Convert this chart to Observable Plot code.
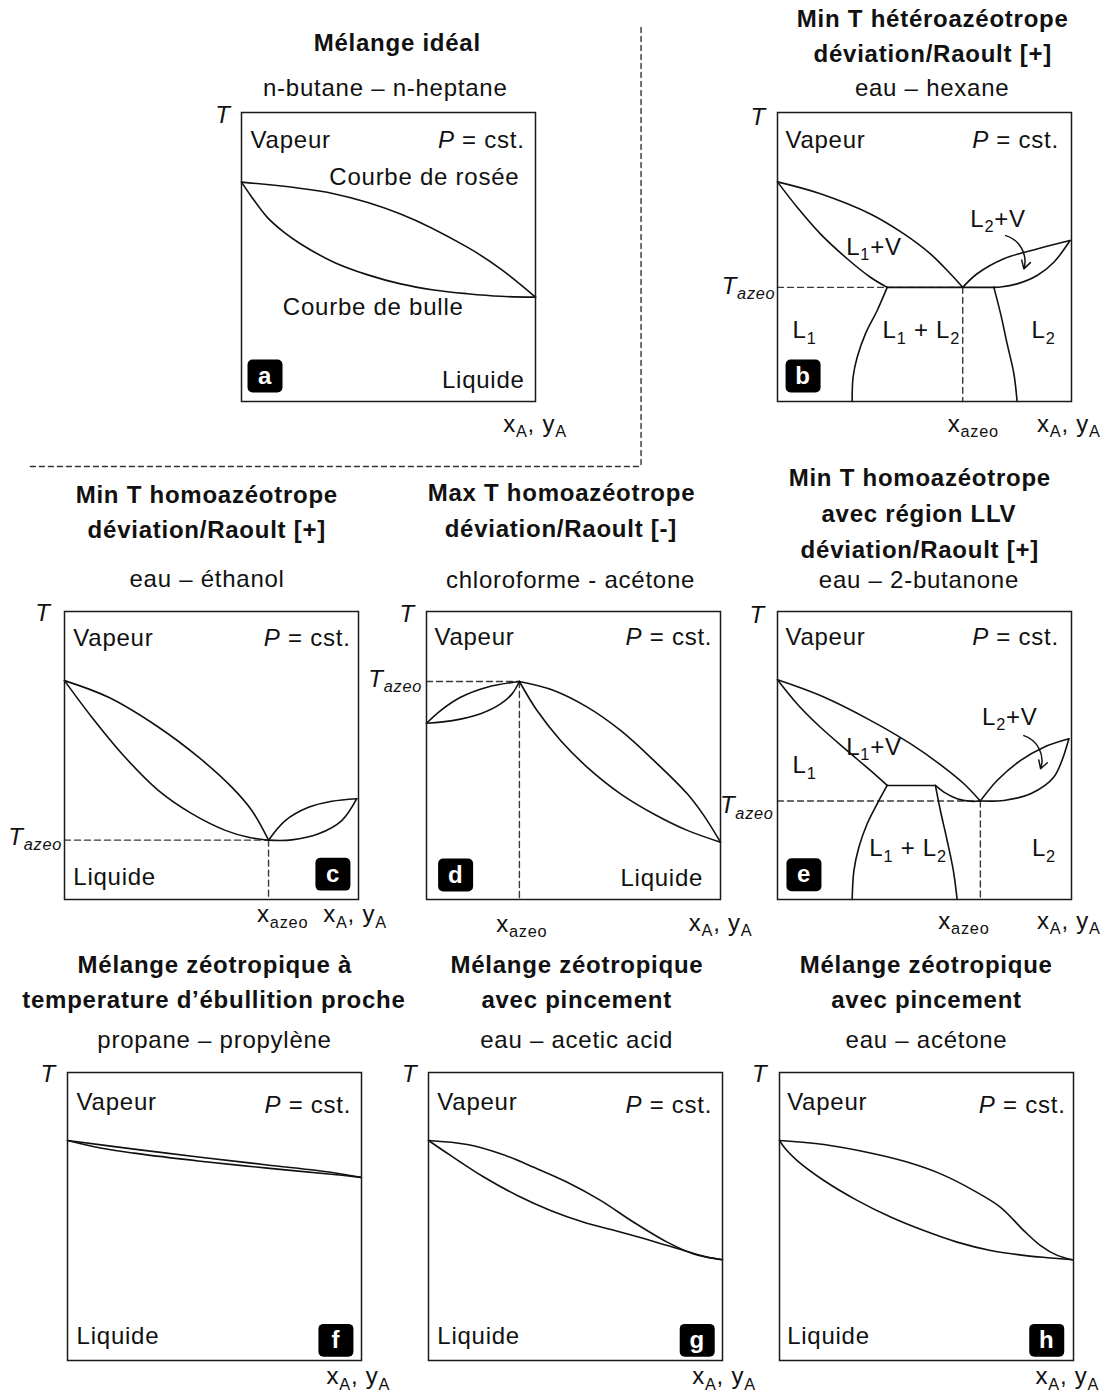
<!DOCTYPE html>
<html>
<head>
<meta charset="utf-8">
<script src="https://cdn.jsdelivr.net/npm/d3@7"></script>
<script src="https://cdn.jsdelivr.net/npm/@observablehq/plot@0.6"></script>
<style>
  html, body { margin: 0; padding: 0; background: #fff; }
  #sheet { position: relative; width: 1104px; height: 1395px; overflow: hidden; background: #fff; }
  #sheet svg { position: absolute; overflow: visible; }
  #sheet svg text { letter-spacing: 0.75px; }
</style>
</head>
<body>
<div id="sheet"></div>
<script>
// ---- Curves: [x_A, reduced temperature T] (0 = bottom of diagram, 1 = top) ----

// a — n-butane / n-heptane (ideal mixture)
const idealDew    = [[0,0.759],[0.314,0.719],[0.541,0.649],[0.768,0.534],[0.881,0.459],[1,0.361]];
const idealBubble = [[0,0.759],[0.031,0.713],[0.087,0.638],[0.144,0.586],[0.2,0.546],[0.314,0.482],[0.427,0.439],[0.541,0.407],[0.654,0.386],[0.768,0.373],[0.881,0.364],[1,0.361]];

// b — eau / hexane (heteroazeotrope)
const hexAzeo        = [0.63, 0.395];
const hexDewL        = [[0,0.76],[0.146,0.719],[0.316,0.649],[0.43,0.58],[0.52,0.511],[0.588,0.442],[0.63,0.395]];
const hexBubbleL     = [[0,0.76],[0.067,0.672],[0.146,0.58],[0.237,0.494],[0.316,0.43],[0.373,0.395]];
const hexThreePhase  = [[0.373,0.395],[0.736,0.395]];
const hexDewR        = [[0.63,0.395],[0.679,0.442],[0.77,0.494],[0.883,0.528],[0.995,0.557]];
const hexBubbleR     = [[0.736,0.395],[0.759,0.396],[0.815,0.407],[0.883,0.436],[0.94,0.482],[0.995,0.557]];
const hexSolubilityL = [[0.373,0.395],[0.339,0.315],[0.299,0.234],[0.271,0.153],[0.257,0.084],[0.254,0]];
const hexSolubilityR = [[0.736,0.395],[0.759,0.303],[0.781,0.2],[0.804,0.096],[0.815,0]];
const hexArrow       = [[0.776,0.574],[0.838,0.459]];

// c — eau / éthanol (minimum-T homoazeotrope)
const ethAzeo     = [0.694, 0.206];
const ethDewL     = [[0,0.76],[0.15,0.702],[0.32,0.598],[0.456,0.494],[0.569,0.39],[0.637,0.309],[0.694,0.206]];
const ethBubbleL  = [[0,0.76],[0.093,0.633],[0.206,0.494],[0.32,0.378],[0.433,0.298],[0.547,0.24],[0.626,0.216],[0.694,0.206]];
const ethDewR     = [[0.694,0.206],[0.751,0.274],[0.83,0.32],[0.909,0.341],[0.994,0.35]];
const ethBubbleR  = [[0.694,0.206],[0.773,0.207],[0.864,0.228],[0.943,0.274],[0.994,0.35]];

// d — chloroforme / acétone (maximum-T homoazeotrope)
const chlAzeo     = [0.316, 0.757];
const chlDewL     = [[0,0.612],[0.048,0.656],[0.116,0.702],[0.206,0.737],[0.316,0.757]];
const chlBubbleL  = [[0,0.612],[0.093,0.622],[0.184,0.645],[0.252,0.679],[0.291,0.714],[0.316,0.757]];
const chlDewR     = [[0.316,0.757],[0.433,0.726],[0.547,0.668],[0.66,0.587],[0.773,0.483],[0.887,0.367],[0.943,0.292],[1,0.199]];
const chlBubbleR  = [[0.316,0.757],[0.376,0.656],[0.456,0.552],[0.547,0.459],[0.66,0.367],[0.773,0.297],[0.887,0.24],[1,0.199]];

// e — eau / 2-butanone (homoazeotrope with an LLV region)
const butAzeo        = [0.69, 0.342];
const butDewL        = [[0,0.763],[0.146,0.708],[0.316,0.622],[0.452,0.541],[0.566,0.459],[0.634,0.402],[0.69,0.342]];
const butBubbleL     = [[0,0.763],[0.067,0.679],[0.146,0.598],[0.237,0.517],[0.316,0.448],[0.373,0.396]];
const butThreePhase  = [[0.373,0.396],[0.537,0.396]];
const butBubbleM     = [[0.537,0.396],[0.566,0.373],[0.611,0.35],[0.656,0.341],[0.69,0.342]];
const butBubbleR     = [[0.69,0.342],[0.77,0.344],[0.861,0.367],[0.94,0.425],[0.991,0.558]];
const butDewR        = [[0.69,0.342],[0.747,0.413],[0.827,0.483],[0.906,0.529],[0.991,0.558]];
const butSolubilityL = [[0.373,0.396],[0.339,0.332],[0.305,0.263],[0.277,0.182],[0.26,0.101],[0.254,0]];
const butSolubilityR = [[0.537,0.396],[0.554,0.309],[0.577,0.205],[0.598,0.101],[0.611,0]];
const butArrow       = [[0.838,0.569],[0.895,0.454]];

// f — propane / propylène (close boiling)
const propDew    = [[0,0.764],[0.226,0.734],[0.452,0.706],[0.679,0.679],[0.906,0.652],[0.997,0.636]];
const propBubble = [[0,0.764],[0.112,0.738],[0.226,0.72],[0.452,0.692],[0.679,0.668],[0.906,0.646],[0.997,0.636]];

// g — eau / acetic acid (pinch)
const aceDew    = [[0,0.764],[0.132,0.75],[0.245,0.718],[0.358,0.671],[0.472,0.619],[0.585,0.556],[0.698,0.48],[0.812,0.411],[0.902,0.37],[1,0.35]];
const aceBubble = [[0,0.764],[0.075,0.712],[0.188,0.637],[0.302,0.573],[0.415,0.521],[0.528,0.48],[0.642,0.449],[0.755,0.417],[0.868,0.382],[0.948,0.359],[1,0.35]];

// h — eau / acétone (pinch)
const acnDew    = [[0,0.764],[0.151,0.75],[0.321,0.718],[0.434,0.689],[0.548,0.648],[0.661,0.59],[0.752,0.532],[0.831,0.451],[0.888,0.399],[0.945,0.365],[0.996,0.35]];
const acnBubble = [[0,0.764],[0.02,0.735],[0.06,0.694],[0.151,0.625],[0.264,0.556],[0.378,0.498],[0.491,0.451],[0.604,0.411],[0.718,0.382],[0.831,0.365],[0.911,0.357],[0.996,0.35]];

// Dotted separators around the ideal-mixture diagram (in that diagram's units)
const dividers = [
  {id: "v", pts: [[1.359, 1.294], [1.359, -0.225]]},
  {id: "h", pts: [[-0.718, -0.225], [1.359, -0.225]]}
];

// ---- Layout ----
const L = (text, x, y, anchor = "middle", style = "plain") => ({text, x, y, anchor, style});
const frameLabels = (v, p, extra) => [
  L("Vapeur", v[0], v[1], "start"),
  L("*P* = cst.", p[0], p[1], "end"),
  ...extra
];

const panels = [
  { letter: "a", left: 241, top: 112, h: 289, badge: [0.08, 0.088],
    curves: {dew: idealDew, bubble: idealBubble}, dividers: true,
    labels: [
      L("Mélange idéal", 0.53, 1.24, "middle", "title"),
      L("n-butane – n-heptane", 0.489, 1.082),
      L("T", -0.063, 0.99, "middle", "italic"),
      L("x_{A}, y_{A}", 0.89, -0.078, "start"),
      ...frameLabels([0.031, 0.903], [0.963, 0.903], [
        L("Courbe de rosée", 0.622, 0.776),
        L("Courbe de bulle", 0.448, 0.326),
        L("Liquide", 0.963, 0.075, "end")
      ])
    ] },
  { letter: "b", left: 777, top: 112, h: 289, badge: [0.087, 0.088], azeo: hexAzeo, arrow: hexArrow,
    curves: {dL: hexDewL, bL: hexBubbleL, tp: hexThreePhase, dR: hexDewR, bR: hexBubbleR, sL: hexSolubilityL, sR: hexSolubilityR},
    labels: [
      L("Min T hétéroazéotrope", 0.528, 1.321, "middle", "title"),
      L("déviation/Raoult [+]", 0.528, 1.203, "middle", "title"),
      L("eau – hexane", 0.526, 1.082),
      L("T", -0.066, 0.984, "middle", "italic"),
      L("T_{azeo}", -0.007, 0.399, "end", "italic"),
      L("x_{azeo}", 0.666, -0.078),
      L("x_{A}, y_{A}", 0.883, -0.078, "start"),
      ...frameLabels([0.027, 0.903], [0.957, 0.903], [
        L("L_{1}+V", 0.328, 0.534),
        L("L_{2}+V", 0.75, 0.632),
        L("L_{1}", 0.092, 0.245),
        L("L_{1} + L_{2}", 0.489, 0.245),
        L("L_{2}", 0.905, 0.245)
      ])
    ] },
  { letter: "c", left: 64, top: 611, h: 288, badge: [0.913, 0.088], azeo: ethAzeo,
    curves: {dL: ethDewL, bL: ethBubbleL, dR: ethDewR, bR: ethBubbleR},
    labels: [
      L("Min T homoazéotrope", 0.484, 1.403, "middle", "title"),
      L("déviation/Raoult [+]", 0.484, 1.281, "middle", "title"),
      L("eau – éthanol", 0.485, 1.113),
      L("T", -0.073, 0.992, "middle", "italic"),
      L("T_{azeo}", -0.008, 0.216, "end", "italic"),
      L("x_{azeo}", 0.742, -0.053),
      L("x_{A}, y_{A}", 0.88, -0.053, "start"),
      ...frameLabels([0.03, 0.907], [0.973, 0.907], [
        L("Liquide", 0.03, 0.077, "start")
      ])
    ] },
  { letter: "d", left: 426, top: 611, h: 288, badge: [0.099, 0.085], azeo: chlAzeo,
    curves: {dL: chlDewL, bL: chlBubbleL, dR: chlDewR, bR: chlBubbleR},
    labels: [
      L("Max T homoazéotrope", 0.459, 1.409, "middle", "title"),
      L("déviation/Raoult [-]", 0.457, 1.287, "middle", "title"),
      L("chloroforme - acétone", 0.49, 1.11),
      L("T", -0.066, 0.99, "middle", "italic"),
      L("T_{azeo}", -0.015, 0.766, "end", "italic"),
      L("x_{azeo}", 0.324, -0.085),
      L("x_{A}, y_{A}", 0.892, -0.082, "start"),
      ...frameLabels([0.027, 0.911], [0.972, 0.911], [
        L("Liquide", 0.941, 0.075, "end")
      ])
    ] },
  { letter: "e", left: 777, top: 611, h: 288, badge: [0.09, 0.086], azeo: butAzeo, arrow: butArrow,
    curves: {dL: butDewL, bL: butBubbleL, tp: butThreePhase, bM: butBubbleM, bR: butBubbleR, dR: butDewR, sL: butSolubilityL, sR: butSolubilityR},
    labels: [
      L("Min T homoazéotrope", 0.484, 1.461, "middle", "title"),
      L("avec région LLV", 0.481, 1.339, "middle", "title"),
      L("déviation/Raoult [+]", 0.484, 1.214, "middle", "title"),
      L("eau – 2-butanone", 0.481, 1.108),
      L("T", -0.069, 0.986, "middle", "italic"),
      L("T_{azeo}", -0.013, 0.326, "end", "italic"),
      L("x_{azeo}", 0.634, -0.076),
      L("x_{A}, y_{A}", 0.883, -0.076, "start"),
      ...frameLabels([0.027, 0.911], [0.957, 0.911], [
        L("L_{1}+V", 0.328, 0.529),
        L("L_{2}+V", 0.79, 0.633),
        L("L_{1}", 0.092, 0.465),
        L("L_{1} + L_{2}", 0.444, 0.176),
        L("L_{2}", 0.906, 0.176)
      ])
    ] },
  { letter: "f", left: 67, top: 1072, h: 288, badge: [0.913, 0.07],
    curves: {dew: propDew, bubble: propBubble},
    labels: [
      L("Mélange zéotropique à", 0.501, 1.372, "middle", "title"),
      L("temperature d’ébullition proche", 0.498, 1.252, "middle", "title"),
      L("propane – propylène", 0.5, 1.111),
      L("T", -0.066, 0.995, "middle", "italic"),
      L("x_{A}, y_{A}", 0.881, -0.056, "start"),
      ...frameLabels([0.031, 0.897], [0.965, 0.885], [
        L("Liquide", 0.031, 0.084, "start")
      ])
    ] },
  { letter: "g", left: 428, top: 1072, h: 288, badge: [0.914, 0.07],
    curves: {dew: aceDew, bubble: aceBubble},
    labels: [
      L("Mélange zéotropique", 0.505, 1.372, "middle", "title"),
      L("avec pincement", 0.504, 1.252, "middle", "title"),
      L("eau – acetic acid", 0.504, 1.111),
      L("T", -0.064, 0.995, "middle", "italic"),
      L("x_{A}, y_{A}", 0.897, -0.056, "start"),
      ...frameLabels([0.03, 0.897], [0.965, 0.885], [
        L("Liquide", 0.03, 0.084, "start")
      ])
    ] },
  { letter: "h", left: 779, top: 1072, h: 288, badge: [0.909, 0.07],
    curves: {dew: acnDew, bubble: acnBubble},
    labels: [
      L("Mélange zéotropique", 0.499, 1.372, "middle", "title"),
      L("avec pincement", 0.5, 1.252, "middle", "title"),
      L("eau – acétone", 0.5, 1.111),
      L("T", -0.067, 0.995, "middle", "italic"),
      L("x_{A}, y_{A}", 0.871, -0.056, "start"),
      ...frameLabels([0.026, 0.897], [0.973, 0.885], [
        L("Liquide", 0.026, 0.084, "start")
      ])
    ] }
];

// ---- Drawing helpers ----
const FONT = "'Liberation Sans', Arial, Helvetica, sans-serif";
const textStyles = {
  title:  {fontSize: 24, fontWeight: "bold"},
  plain:  {fontSize: 24},
  italic: {fontSize: 24, fontStyle: "italic"}
};

const rows = (id, pts) => pts.map(([x, y]) => ({id, x, y}));

// Rounded-square symbol for the panel letter badges
const roundSquare = {
  draw(ctx, size) {
    const w = Math.sqrt(size / Math.PI), h = w * 0.94, c = 5;
    ctx.moveTo(-w + c, -h);
    ctx.lineTo(w - c, -h); ctx.arcTo(w, -h, w, -h + c, c);
    ctx.lineTo(w, h - c);  ctx.arcTo(w, h, w - c, h, c);
    ctx.lineTo(-w + c, h); ctx.arcTo(-w, h, -w, h - c, c);
    ctx.lineTo(-w, -h + c); ctx.arcTo(-w, -h, -w + c, -h, c);
    ctx.closePath();
  }
};

function textMarks(labels) {
  return d3.groups(labels, d => d.anchor + "|" + d.style).map(([key, group]) => {
    const [anchor, style] = key.split("|");
    return Plot.text(group, {x: "x", y: "y", text: "text", textAnchor: anchor, fill: "#111", ...textStyles[style]});
  });
}

// "_{..}" becomes a subscript, "*..*" italic
function richText(svg) {
  const NS = "http://www.w3.org/2000/svg";
  for (const t of svg.querySelectorAll("text")) {
    const s = t.textContent;
    if (!/[_*]/.test(s)) continue;
    while (t.firstChild) t.removeChild(t.firstChild);
    let lowered = false;
    for (const m of s.matchAll(/_\{([^}]*)\}|\*([^*]*)\*|([^_*]+)/g)) {
      const span = document.createElementNS(NS, "tspan");
      if (m[1] !== undefined) {
        span.textContent = m[1];
        span.style.fontSize = "68%";
        span.setAttribute("dy", "0.33em");
        lowered = true;
      } else {
        span.textContent = m[2] !== undefined ? m[2] : m[3];
        if (m[2] !== undefined) span.style.fontStyle = "italic";
        if (lowered) { span.setAttribute("dy", "-0.225em"); lowered = false; }
      }
      t.appendChild(span);
    }
  }
}

const sheet = document.getElementById("sheet");
const mL = 110, mR = 80, mT = 175, mB = 50, W = 294;

for (const p of panels) {
  const curveRows = Object.entries(p.curves).flatMap(([id, pts]) => rows(id, pts));
  const marks = [];

  if (p.dividers) {
    marks.push(Plot.line(dividers.flatMap(d => rows(d.id, d.pts)),
      {x: "x", y: "y", z: "id", stroke: "#333", strokeWidth: 1.4, strokeDasharray: "5,4"}));
  }
  if (p.azeo) {
    const [xa, ta] = p.azeo;
    marks.push(Plot.line([...rows("h", [[0, ta], [xa, ta]]), ...rows("v", [[xa, ta], [xa, 0]])],
      {x: "x", y: "y", z: "id", stroke: "#3a3a3a", strokeWidth: 1.4, strokeDasharray: "6,4"}));
  }
  marks.push(Plot.line(curveRows, {x: "x", y: "y", z: "id", curve: "catmull-rom", stroke: "#111", strokeWidth: 1.6}));
  if (p.arrow) {
    const [[x1, y1], [x2, y2]] = p.arrow;
    marks.push(Plot.arrow([{x1, y1, x2, y2}], {x1: "x1", y1: "y1", x2: "x2", y2: "y2", bend: 45, headLength: 9, stroke: "#111", strokeWidth: 1.5}));
  }
  marks.push(Plot.frame({stroke: "#1a1a1a", strokeWidth: 1.5}));
  marks.push(Plot.dot([{x: p.badge[0], y: p.badge[1]}], {x: "x", y: "y", r: 17.5, symbol: roundSquare, fill: "#000", stroke: "none"}));
  marks.push(Plot.text([{x: p.badge[0], y: p.badge[1], t: p.letter}], {x: "x", y: "y", text: "t", fill: "#fff", fontSize: 24, fontWeight: "bold"}));
  marks.push(...textMarks(p.labels));

  const svg = Plot.plot({
    width: W + mL + mR,
    height: p.h + mT + mB,
    marginLeft: mL, marginRight: mR, marginTop: mT, marginBottom: mB,
    x: {domain: [0, 1], axis: null},
    y: {domain: [0, 1], axis: null},
    style: {background: "transparent", overflow: "visible", fontFamily: FONT},
    marks
  });
  richText(svg);
  svg.style.left = (p.left - mL) + "px";
  svg.style.top = (p.top - mT) + "px";
  sheet.appendChild(svg);
}
</script>
</body>
</html>
